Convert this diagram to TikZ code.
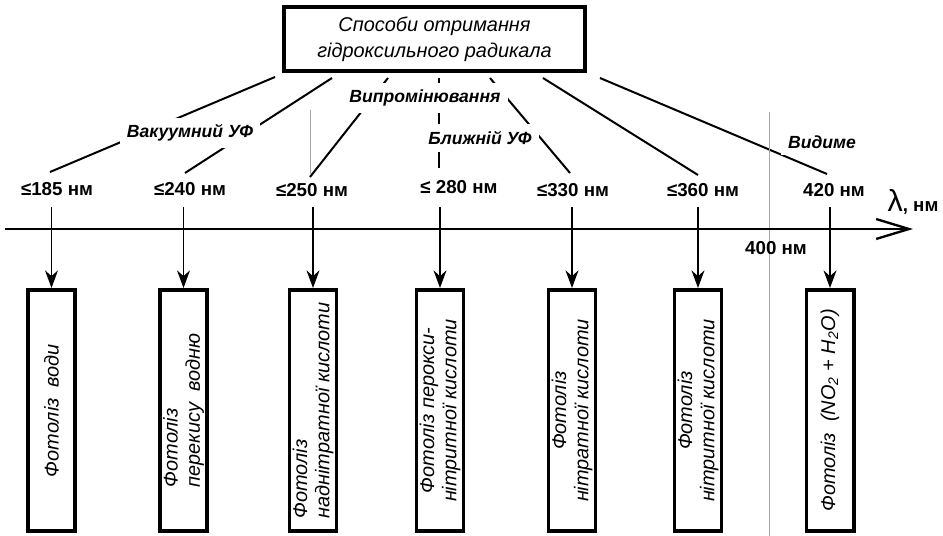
\documentclass[tikz,border=0pt]{standalone}
\usepackage{fontspec}
\setmainfont{Liberation Sans}
\usetikzlibrary{arrows.meta}
\begin{document}
\begin{tikzpicture}[x=0.03cm, y=-0.03cm, >={Stealth[length=15pt,width=11pt]},
    fan/.style={line width=1.7pt},
    band/.style={fill=white, inner sep=6pt, font=\fontsize{15}{15}\selectfont\bfseries\itshape},
    wave/.style={font=\fontsize{16}{16}\selectfont\bfseries},
    photo/.style={draw, line width=3.4pt, rotate=90, minimum width=7.23cm, minimum height=1.41cm,
        inner sep=0pt, align=center, font=\fontsize{17}{19}\selectfont\itshape}]
    \useasboundingbox (0,0) rectangle (943,536);
    \node[draw, line width=3.4pt, minimum width=9.03cm, minimum height=1.92cm, align=center,
        font=\fontsize{17}{22}\selectfont\itshape] (top) at (434.5,39) {Способи отримання\\гідроксильного радикала};
    \coordinate (f1) at (275,77); \coordinate (e1) at (50,172);
    \coordinate (f2) at (332,78); \coordinate (e2) at (185,173);
    \coordinate (f3) at (388,78); \coordinate (e3) at (310,177);
    \coordinate (f4) at (439,78); \coordinate (e4) at (439,168);
    \coordinate (f5) at (490,78); \coordinate (e5) at (570,173);
    \coordinate (f6) at (543,78); \coordinate (e6) at (698,175);
    \coordinate (f7) at (600,78); \coordinate (e7) at (827,174);
    \foreach \i in {1,...,7} \draw[fan] (f\i) -- (e\i);
    \draw[gray!70, line width=0.8pt] (310,110) -- (310,175);
    \draw[gray!70, line width=0.8pt] (769,112) -- (769,536);
    \node[band] (vuv) at (190,133) {Вакуумний УФ};
    \node[band] (rad) at (425,98) {Випромінювання};
    \node[band] (nuv) at (480,138) {Ближній УФ};
    \node[band] (vis) at (822,142) {Видиме};
    \coordinate (a0) at (5,229); \coordinate (a1) at (913,229);
    \draw[line width=2pt, -{Straight Barb[length=28pt,width=17pt,line width=2pt]}] (a0) -- (a1);
    \node[wave] (l1) at (57,189) {≤185 нм};
    \node[wave] (l2) at (190,189) {≤240 нм};
    \node[wave] (l3) at (312,190) {≤250 нм};
    \node[wave] (l4) at (459,187) {≤ 280 нм};
    \node[wave] (l5) at (573,190) {≤330 нм};
    \node[wave] (l6) at (703,190) {≤360 нм};
    \node[wave] (l7) at (834,190) {420 нм};
    \node[wave] (l0) at (776,248) {400 нм};
    \node[wave, anchor=base] (lam) at (913,212) {{\fontsize{26}{26}\selectfont\mdseries λ}, нм};
    \node[photo] (b1) at (51.5,410.5) {Фотоліз~~води};
    \node[photo, align=left] (b2) at (183.5,410.5) {Фотоліз\\перекису~~водню};
    \node[photo, align=left] (b3) at (313,410.5) {Фотоліз\\наднітратної кислоти};
    \node[photo] (b4) at (440,410.5) {Фотоліз перокси-\\нітритної кислоти};
    \node[photo] (b5) at (572,410.5) {Фотоліз\\нітратної кислоти};
    \node[photo] (b6) at (698,410.5) {Фотоліз\\нітритної кислоти};
    \node[photo] (b7) at (830,410.5) {Фотоліз~~(NO\textsubscript{2} + H\textsubscript{2}O)};
    \coordinate (t1) at (51.5,207); \coordinate (t2) at (183.5,207);
    \coordinate (t3) at (313,207); \coordinate (t4) at (440,207);
    \coordinate (t5) at (572,207); \coordinate (t6) at (698,207);
    \coordinate (t7) at (830,207);
    \foreach \i in {1,...,7} \draw[->, line width=1.7pt] (t\i) -- (b\i);
\end{tikzpicture}
\end{document}
